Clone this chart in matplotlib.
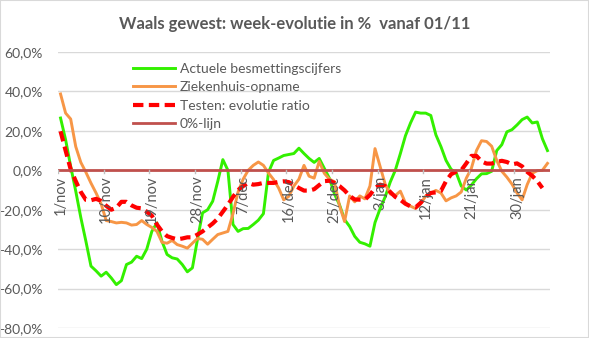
import matplotlib
matplotlib.use("Agg")
import matplotlib.pyplot as plt
from matplotlib.patches import Rectangle
import numpy as np

plt.rcParams['font.family'] = ['Lato', 'DejaVu Sans']

# one value per day, 1/nov .. 5/feb (%)
besmettingen = [26.5, 15.5, 2, -10.6, -24, -36, -48.6, -51, -53.7, -51.7,
                -54.6, -58, -56, -47.8, -46.6, -43.6, -44.8, -40, -31, -26.7,
                -36, -42.7, -44.4, -45, -47.8, -51.5, -49.5, -35, -21.6, -20,
                -15.7, -5.6, 5.4, 0, -27.5, -31, -29.6, -29.5, -27.5, -25.3,
                -22, -1, 5, 6.2, 7.5, 8, 8.5, 11.2, 8.5, 6,
                4, 6, 1, -4, -12, -17.5, -25, -28.5, -33.5, -36.5,
                -37.3, -38.5, -26.5, -19.5, -13.5, -6, 0, 8.5, 17.5, 24,
                29.5, 29, 29, 27.8, 18, 12, 5, 0.5, -1.2, -8,
                -10, -7.5, -4.3, -1.8, -1.7, -0.5, 10, 13, 19.5, 20.6,
                23, 25.7, 27, 24, 24.5, 16, 10]
ziekenhuis = [38.7, 29, 26, 12, 4, -1, -6.5, -11.5, -17, -25.5,
              -26, -26.7, -26.4, -26.7, -27.8, -27.5, -25.5, -27.5, -29, -31,
              -36.5, -37, -35.6, -37.7, -38.5, -39.5, -37, -34.6, -35, -37.5,
              -35, -32.6, -31.8, -31, -22, -11, -4.5, 0, 2.5, 4.2,
              2.5, -1.4, -4.7, -9, -15, -13.2, -8, -4.5, 2.5, -3,
              -4, 4.5, -1.5, -4.5, -5.8, -18, -26, -13, -16, -13,
              -14.5, -8, 11, 2, -7, -12, -12.8, -10.6, -16.6, -18.2,
              -19.4, -17, -13, -11.6, -10.2, -11.5, -15.5, -14, -13, -11,
              -4, 1, 10, 15, 14.6, 12.2, 5, -0.5, -3.5, -7,
              -11.5, -15, -7.3, -1.5, -0.2, 0, 3.5]
testen = [19.8, 10, 0.5, -5.5, -11, -15, -15.2, -14.5, -15.5, -18,
          -20, -19, -16, -16, -17.8, -19, -19.3, -21, -23, -27.5,
          -31, -33.4, -34.3, -35, -34.6, -34, -34, -32.6, -31, -29,
          -27, -24.5, -21, -17.5, -13.5, -10, -8, -6.4, -7.3, -7,
          -6.4, -6.4, -6.4, -5.9, -5.6, -6, -7.5, -9, -10.3, -10.3,
          -9.6, -7.5, -5.5, -5.3, -6.4, -8, -10.2, -13, -14.8, -14.9,
          -14.9, -12.5, -9, -7.3, -8, -11, -13.5, -15, -17, -18.3,
          -18.8, -16.5, -13.5, -11.5, -11.2, -10.5, -5.5, -2, -0.7, 0,
          3.5, 7.3, 7.3, 4.5, 3.4, 3.4, 4.3, 4.8, 4.2, 3,
          3.5, 2, -0.8, -2.8, -5.5, -9, np.nan]
tick_labels = ["1/nov", "10/nov", "19/nov", "28/nov", "7/dec", "16/dec",
               "25/dec", "3/jan", "12/jan", "21/jan", "30/jan"]

x = np.arange(len(besmettingen))
grey = '#595959'

fig = plt.figure(figsize=(5.89, 3.38), dpi=100)
ax = fig.add_axes([58/589, 10/338, 492/589, 276/338])

ax.set_xlim(-0.5, len(x) - 0.5)
ax.set_ylim(-80, 60)
ax.set_yticks(np.arange(-80, 61, 20))
ax.set_yticklabels([f"{v:.1f}%".replace('.', ',') for v in np.arange(-80, 61, 20)])
ax.grid(axis='y', color='#D9D9D9', lw=1)
ax.set_axisbelow(True)
for s in ax.spines.values():
    s.set_visible(False)
ax.tick_params(axis='y', length=0, pad=11, labelsize=10, labelcolor=grey)

ax.plot(x, besmettingen, color='#33F000', lw=2.1, label='Actuele besmettingscijfers')
ax.plot(x, ziekenhuis, color='#F79646', lw=2.1, label='Ziekenhuis-opname')
ax.plot(x, testen, color='#FF0000', lw=3, dashes=(2.5, 1.3), label='Testen: evolutie ratio')
ax.plot([-0.5, len(x) - 0.5], [0, 0], color='#C0504D', lw=2, label='0%-lijn')

# category axis crossing at 0
ax.set_xticks([])
for k, lab in enumerate(tick_labels):
    ax.plot([9*k - 0.5, 9*k - 0.5], [0, -1.5], color='#BFBFBF', lw=1)
    ax.annotate(lab, (9*k, 0), xytext=(0, -4), textcoords='offset points',
                rotation=90, ha='center', va='top', fontsize=10.5, color=grey)

leg = ax.legend(loc='upper left', bbox_to_anchor=(133/589, 1 - 63/338),
                bbox_transform=fig.transFigure, frameon=False, fontsize=10,
                handlelength=3.0, handletextpad=0.35, labelspacing=0.45,
                borderpad=0, borderaxespad=0)
for t in leg.get_texts():
    t.set_color(grey)

fig.text(0.5, 1 - 24/338, "Waals gewest: week-evolutie in %  vanaf 01/11",
         ha='center', va='center', fontsize=12, fontweight='bold', color=grey)

fig.patches.append(Rectangle((0, 0), 1, 1, transform=fig.transFigure, fill=False,
                             edgecolor='#D9D9D9', lw=1.5))

fig.savefig('out.png', dpi=100)
